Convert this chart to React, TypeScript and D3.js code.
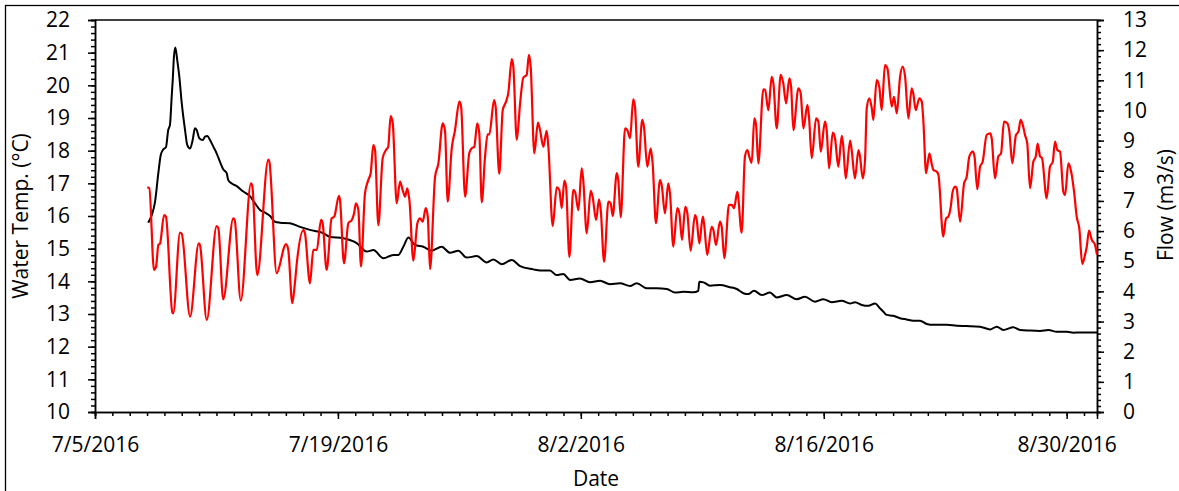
import React, { useEffect, useRef } from 'react';
import * as d3 from 'd3';

const W = 1179;
const H = 491;
const START = Date.UTC(2016, 6, 5);
const DAY = 86400000;
const DOMAIN_DAYS = 57.75;

const majorDates = ['2016-07-05', '2016-07-19', '2016-08-02', '2016-08-16', '2016-08-30'];
const tempTicks = [10, 11, 12, 13, 14, 15, 16, 17, 18, 19, 20, 21, 22];
const flowTicks = [0, 1, 2, 3, 4, 5, 6, 7, 8, 9, 10, 11, 12, 13];

// Water temperature (°C): time in days since 7/5/2016, value
const tempDays = [
  3.01, 3.13, 3.40, 3.52, 3.65, 3.75, 3.98, 4.09, 4.46, 4.51, 4.90, 5.00, 5.48, 5.98, 6.05, 6.44,
  7.01, 7.11, 7.39, 7.97, 8.05, 8.40, 8.99, 9.07, 9.35, 9.99, 10.05, 10.47, 10.76, 10.85, 11.01, 11.14,
  11.37, 11.53, 11.63, 12.01, 12.10, 12.39, 12.58, 12.78, 13.03, 13.12, 13.35, 13.64, 13.79, 14.06, 14.12,
  14.35, 14.60, 14.80, 14.93, 15.04, 15.18, 15.33, 15.56, 15.75, 15.89, 16.04, 16.14, 16.33, 16.58, 16.77,
  16.90, 17.04, 17.16, 17.39, 17.58, 17.73, 17.87, 18.00, 18.12, 18.35, 18.58, 18.73, 18.89, 19.06, 19.18,
  19.31, 19.60, 19.79, 20.04, 20.17, 20.33, 20.56, 20.75, 21.00, 21.10, 21.33, 21.57, 21.71, 21.86, 22.03,
  22.15, 22.29, 22.48, 22.63, 22.73, 23.00, 23.09, 23.30, 23.50, 23.69, 23.82, 24.02, 24.11, 24.31, 24.50,
  24.69, 24.88, 25.01, 25.11, 25.32, 25.53, 25.65, 25.84, 26.03, 26.13, 26.38, 26.61, 26.76, 26.90, 27.05,
  27.15, 27.34, 27.57, 27.67, 27.86, 28.05, 28.14, 28.34, 28.57, 28.68, 28.88, 29.05, 29.15, 29.34, 29.59,
  29.72, 29.84, 30.07, 30.16, 30.30, 30.55, 30.68, 30.84, 31.02, 31.12, 31.31, 31.54, 31.64, 31.83, 32.03,
  32.14, 32.33, 32.56, 32.66, 32.85, 33.04, 33.14, 33.33, 33.56, 33.68, 33.83, 34.02, 34.14, 34.33, 34.58,
  34.68, 34.83, 35.03, 35.10, 35.29, 35.54, 35.64, 35.79, 36.02, 36.12, 36.27, 36.54, 36.70, 36.83, 37.02,
  37.27, 37.46, 37.60, 37.71, 37.85, 38.00, 38.10, 38.23, 38.52, 38.62, 38.81, 39.00, 39.10, 39.29, 39.52,
  39.67, 39.83, 40.02, 40.12, 40.25, 40.54, 40.67, 40.83, 41.06, 41.15, 41.31, 41.56, 41.69, 41.83, 42.07,
  42.17, 42.31, 42.52, 42.65, 42.84, 43.04, 43.13, 43.27, 43.52, 43.61, 43.80, 44.00, 44.09, 44.25, 44.38,
  44.48, 44.63, 44.77, 44.86, 45.05, 45.20, 45.34, 45.53, 45.67, 45.92, 46.05, 46.21, 46.40, 46.55, 46.69,
  46.88, 47.07, 47.16, 47.30, 47.51, 47.65, 47.74, 47.90, 48.09, 48.22, 48.32, 48.51, 48.61, 48.89, 49.05,
  49.18, 49.32, 49.43, 49.57, 49.66, 49.86, 50.09, 50.24, 50.39, 50.59, 50.69, 50.85, 51.01, 51.16, 51.39,
  51.59, 51.68, 51.87, 52.06, 52.22, 52.39, 52.58, 52.70, 52.87, 53.08, 53.22, 53.35, 53.47, 53.60, 53.73,
  53.89, 54.08, 54.22, 54.33, 54.47, 54.58, 54.85, 55.04, 55.20, 55.33, 55.46, 55.62, 55.81, 55.91, 56.10,
  56.24, 56.43, 56.58, 56.73, 56.90, 57.06, 57.16, 57.29, 57.45, 57.64, 57.75,
];
const tempValues = [
  16.88, 16.85, 14.35, 14.45, 15.11, 15.16, 16.03, 15.98, 13.04, 13.02, 15.49, 15.45, 12.92, 15.16, 15.11, 12.82,
  15.69, 15.62, 13.45, 15.93, 15.88, 13.41, 17.0, 16.9, 14.19, 17.73, 17.66, 14.25, 14.75, 14.96, 15.14, 14.96,
  13.33, 13.99, 14.55, 15.57, 15.47, 13.94, 14.96, 14.96, 15.88, 15.78, 14.35, 15.93, 15.98, 16.62, 16.49,
  14.55, 15.78, 15.88, 16.08, 16.39, 16.18, 14.45, 16.69, 17.1, 17.31, 18.17, 18.02, 15.72, 17.77, 18.02,
  18.12, 19.06, 18.84, 16.39, 17.05, 16.8, 16.59, 16.85, 16.49, 14.63, 15.78, 15.93, 15.83, 16.24, 15.98,
  14.37, 17.2, 17.61, 18.84, 18.63, 16.44, 18.07, 18.63, 19.5, 19.35, 16.59, 17.92, 18.07, 18.12, 18.84,
  18.53, 16.42, 17.82, 18.5, 18.5, 19.55, 19.35, 17.29, 19.24, 19.5, 19.76, 20.8, 20.57, 18.33, 19.45,
  20.24, 20.32, 20.93, 20.57, 17.92, 18.86, 18.63, 18.12, 18.61, 18.12, 15.69, 16.88, 16.8, 16.24, 17.08,
  16.9, 14.75, 16.8, 16.74, 16.18, 17.46, 17.1, 15.47, 16.77, 16.59, 15.88, 16.51, 16.18, 14.6, 16.44,
  16.39, 16.0, 17.31, 17.1, 15.96, 18.68, 18.63, 18.38, 19.57, 19.35, 17.51, 18.94, 18.73, 17.51, 18.07,
  17.61, 15.78, 17.1, 16.95, 16.08, 17.0, 16.69, 15.06, 16.24, 16.08, 15.27, 16.28, 16.08, 14.94, 16.03,
  15.88, 15.16, 15.98, 15.78, 14.81, 15.67, 15.57, 15.11, 15.83, 15.67, 14.71, 16.34, 16.34, 16.24, 16.74,
  15.49, 17.82, 18.02, 17.82, 17.63, 18.99, 18.79, 17.61, 19.88, 19.86, 19.24, 20.26, 20.06, 18.68, 20.32,
  20.06, 19.45, 20.21, 19.96, 18.63, 19.91, 19.76, 18.68, 19.4, 19.04, 17.77, 18.99, 18.89, 17.97, 18.89,
  18.63, 17.46, 18.55, 18.38, 17.51, 18.45, 18.12, 17.15, 18.31, 18.02, 17.15, 18.02, 17.82, 17.15, 17.71,
  19.3, 19.6, 19.3, 18.94, 20.16, 19.96, 19.24, 20.62, 20.52, 19.35, 19.65, 19.14, 20.26, 20.57, 20.26,
  18.99, 19.91, 19.76, 19.24, 19.6, 19.5, 18.94, 17.31, 17.92, 17.61, 17.41, 17.36, 17.26, 15.37, 15.93,
  15.98, 16.28, 16.74, 16.9, 16.85, 15.83, 17.0, 17.2, 17.82, 17.97, 17.82, 16.82, 17.51, 17.66, 18.48,
  18.53, 18.38, 17.15, 17.82, 17.92, 18.89, 18.84, 18.58, 17.61, 18.48, 18.58, 18.94, 18.79, 18.48, 18.22,
  16.85, 17.66, 17.82, 18.22, 17.82, 17.77, 16.54, 17.51, 17.66, 18.28, 18.02, 17.97, 16.74, 16.64, 17.61,
  17.41, 16.74, 15.98, 15.62, 14.53, 14.81, 15.06, 15.55, 15.27, 15.11, 14.81,
];

// Flow (m3/s): time in days since 7/5/2016, value
const flowDays = [
  3.07, 3.27, 3.46, 3.65, 3.79, 3.94, 4.09, 4.22, 4.32, 4.42, 4.48, 4.55, 4.63, 4.74, 4.86, 5.00, 5.19,
  5.32, 5.48, 5.63, 5.76, 5.86, 6.01, 6.21, 6.34, 6.47, 6.63, 6.82, 7.01, 7.20, 7.39, 7.59, 7.68, 7.88,
  8.17, 8.55, 8.93, 9.22, 9.51, 9.80, 10.09, 10.37, 10.66, 11.24, 11.82, 12.39, 13.16, 13.54, 14.31, 15.08,
  15.66, 16.04, 16.62, 17.19, 17.48, 17.77, 18.06, 18.44, 18.92, 19.41, 19.98, 20.46, 20.94, 21.42, 22.00,
  22.58, 22.96, 23.44, 24.02, 24.50, 25.26, 25.65, 26.22, 26.61, 26.99, 27.38, 27.95, 28.53, 29.11, 29.68,
  30.26, 30.84, 31.22, 31.80, 32.37, 32.95, 33.43, 33.91, 34.48, 34.77, 34.83, 35.07, 35.45, 36.02, 36.60,
  36.99, 37.37, 37.65, 37.98, 38.43, 38.90, 39.29, 39.87, 40.44, 40.92, 41.50, 41.98, 42.46, 43.04, 43.52,
  43.80, 44.19, 44.57, 44.96, 45.24, 45.43, 45.63, 46.01, 46.40, 46.78, 47.16, 47.55, 47.94, 48.32, 49.09,
  49.67, 50.24, 51.01, 51.59, 51.97, 52.35, 52.93, 53.31, 53.89, 54.47, 54.95, 55.43, 56.01, 56.39, 56.77,
  57.75,
];
const flowValues = [
  6.28, 6.53, 6.97, 7.92, 8.52, 8.71, 8.78, 9.35, 9.52, 10.46, 11.01, 11.78, 12.09, 11.67, 11.12, 10.24, 9.35,
  8.85, 8.74, 9.02, 9.41, 9.35, 9.08, 9.02, 9.13, 9.15, 9.02, 8.8, 8.58, 8.3, 8.05, 7.92, 7.69, 7.58,
  7.49, 7.31, 7.16, 6.92, 6.7, 6.61, 6.5, 6.31, 6.28, 6.26, 6.14, 6.04, 5.93, 5.81, 5.76, 5.6,
  5.32, 5.37, 5.1, 5.21, 5.21, 5.48, 5.79, 5.54, 5.48, 5.35, 5.48, 5.28, 5.35, 5.12, 5.17,
  4.96, 5.06, 4.9, 5.04, 4.84, 4.73, 4.69, 4.69, 4.54, 4.58, 4.38, 4.43, 4.3, 4.35, 4.24,
  4.27, 4.18, 4.27, 4.1, 4.1, 4.08, 3.96, 3.99, 3.97, 4.02, 4.32, 4.3, 4.19, 4.21, 4.14,
  4.08, 3.94, 3.91, 4.02, 3.88, 3.96, 3.8, 3.88, 3.74, 3.82, 3.66, 3.74, 3.64, 3.69, 3.6,
  3.64, 3.55, 3.52, 3.6, 3.44, 3.33, 3.22, 3.19, 3.11, 3.07, 3.03, 3.03, 2.92, 2.89, 2.89,
  2.86, 2.85, 2.83, 2.74, 2.83, 2.72, 2.81, 2.72, 2.7, 2.69, 2.72, 2.66, 2.66, 2.63, 2.64,
  2.64,
];

const FONT = "'Open Sans', sans-serif";
const FS = 21;

export default function App() {
  const ref = useRef<SVGSVGElement | null>(null);

  useEffect(() => {
    document.body.style.margin = '0';
    const svg = d3.select(ref.current);
    svg.selectAll('*').remove();

    const m = { left: 95, right: 1097, top: 20, bottom: 412 };
    const x = d3.scaleUtc()
      .domain([new Date(START), new Date(START + DOMAIN_DAYS * DAY)])
      .range([m.left, m.right]);
    const yT = d3.scaleLinear().domain([10, 22]).range([m.bottom, m.top]);
    const yF = d3.scaleLinear().domain([0, 13]).range([m.bottom, m.top]);

    const toDate = (d: number) => new Date(START + d * DAY);

    // outer chart border
    svg.append('rect')
      .attr('x', 5.5).attr('y', 5.5)
      .attr('width', W + 20).attr('height', H + 20)
      .attr('fill', 'none').attr('stroke', '#000').attr('stroke-width', 1.3);

    // plot frame top
    svg.append('line')
      .attr('x1', m.left).attr('x2', m.right)
      .attr('y1', m.top).attr('y2', m.top)
      .attr('stroke', '#000').attr('stroke-width', 1.5);

    const styleAxis = (g: any) => {
      g.select('.domain').attr('stroke', '#000').attr('stroke-width', 1.5);
      g.selectAll('.tick line').attr('stroke', '#000').attr('stroke-width', 1.5);
      g.selectAll('text').attr('font-family', FONT).attr('font-size', FS).attr('fill', '#000');
    };

    // minor ticks
    const tMinor = d3.range(10, 22.001, 0.2);
    const fMinor = d3.range(0, 13.001, 0.2);
    const dayMinor = d3.utcDay.range(new Date(START), new Date(START + DOMAIN_DAYS * DAY + 1));

    const gLm = svg.append('g').attr('transform', `translate(${m.left},0)`)
      .call(d3.axisLeft(yT).tickValues(tMinor).tickSize(4).tickFormat(() => ''));
    styleAxis(gLm);
    const gRm = svg.append('g').attr('transform', `translate(${m.right},0)`)
      .call(d3.axisRight(yF).tickValues(fMinor).tickSize(4).tickFormat(() => ''));
    styleAxis(gRm);
    const gBm = svg.append('g').attr('transform', `translate(0,${m.bottom})`)
      .call(d3.axisBottom(x).tickValues(dayMinor).tickSize(4).tickFormat(() => ''));
    styleAxis(gBm);

    // major axes
    const gL = svg.append('g').attr('transform', `translate(${m.left},0)`)
      .call(d3.axisLeft(yT).tickValues(tempTicks).tickSize(7).tickPadding(18).tickFormat(d3.format('d')));
    styleAxis(gL);
    const gR = svg.append('g').attr('transform', `translate(${m.right},0)`)
      .call(d3.axisRight(yF).tickValues(flowTicks).tickSize(7).tickPadding(19).tickFormat(d3.format('d')));
    styleAxis(gR);
    const gB = svg.append('g').attr('transform', `translate(0,${m.bottom})`)
      .call(d3.axisBottom(x)
        .tickValues(majorDates.map((s) => new Date(s + 'T00:00:00Z')))
        .tickSize(7).tickPadding(18)
        .tickFormat((d: any) => d3.utcFormat('%-m/%-d/%Y')(d)));
    styleAxis(gB);

    // lines
    const plot = svg.append('g');
    const lineT = d3.line<number>()
      .x((d) => x(toDate(tempDays[d])))
      .y((d) => yT(tempValues[d]))
      .curve(d3.curveMonotoneX);
    const lineF = d3.line<number>()
      .x((d) => x(toDate(flowDays[d])))
      .y((d) => yF(flowValues[d]))
      .curve(d3.curveMonotoneX);

    plot.append('path')
      .attr('d', lineF(d3.range(flowDays.length)))
      .attr('fill', 'none').attr('stroke', '#000').attr('stroke-width', 2)
      .attr('stroke-linejoin', 'round');
    plot.append('path')
      .attr('d', lineT(d3.range(tempDays.length)))
      .attr('fill', 'none').attr('stroke', '#ff0000').attr('stroke-width', 2.2)
      .attr('stroke-linejoin', 'round');

    // axis titles
    svg.append('text')
      .attr('transform', `translate(28,216) rotate(-90)`)
      .attr('text-anchor', 'middle')
      .attr('font-family', FONT).attr('font-size', FS).attr('fill', '#000')
      .text('Water Temp. (°C)');
    svg.append('text')
      .attr('transform', `translate(1173,205) rotate(-90)`)
      .attr('text-anchor', 'middle')
      .attr('font-family', FONT).attr('font-size', FS).attr('fill', '#000')
      .text('Flow (m3/s)');
    svg.append('text')
      .attr('x', (m.left + m.right) / 2).attr('y', 486)
      .attr('text-anchor', 'middle')
      .attr('font-family', FONT).attr('font-size', FS).attr('fill', '#000')
      .text('Date');
  }, []);

  return (
    <svg ref={ref} width={W} height={H} style={{ display: 'block', background: '#fff' }} />
  );
}
